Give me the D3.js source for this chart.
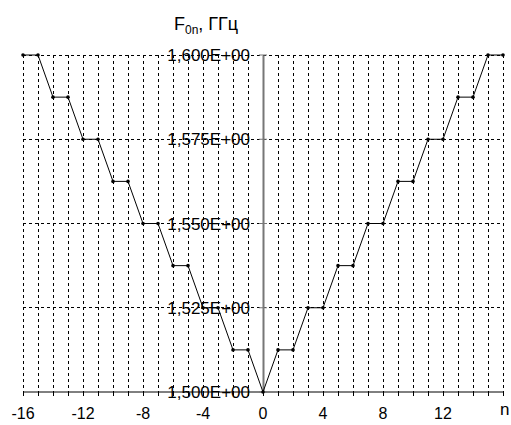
<!DOCTYPE html>
<html>
<head>
<meta charset="utf-8">
<script src="https://cdn.jsdelivr.net/npm/d3@7"></script>
<style>
  body { margin: 0; background: #fff; }
  text { font-family: Arial, "Liberation Sans", sans-serif; fill: #000; }
</style>
</head>
<body>
<script>
// chart size
var svgWidth = 511;
var svgHeight = 425;

// data
var nValues = [-16, -15, -14, -13, -12, -11, -10, -9, -8, -7, -6, -5, -4, -3, -2, -1,
  0, 1, 2, 3, 4, 5, 6, 7, 8, 9, 10, 11, 12, 13, 14, 15, 16];
var fValues = [1.6, 1.6, 1.5875, 1.5875, 1.575, 1.575, 1.5625, 1.5625, 1.55, 1.55,
  1.5375, 1.5375, 1.525, 1.525, 1.5125, 1.5125, 1.5,
  1.5125, 1.5125, 1.525, 1.525, 1.5375, 1.5375, 1.55, 1.55, 1.5625, 1.5625,
  1.575, 1.575, 1.5875, 1.5875, 1.6, 1.6];
var xTickLabels = [-16, -12, -8, -4, 0, 4, 8, 12];
var yTickValues = [1.5, 1.525, 1.55, 1.575, 1.6];
var xGridValues = d3.range(-16, 17);

var data = nValues.map(function(n, i) { return { n: n, f: fValues[i] }; });

var svg = d3.select("body")
  .append("svg")
  .attr("width", svgWidth)
  .attr("height", svgHeight);

// scales
var xScale = d3.scaleLinear().domain([-16, 16]).range([23, 503]);
var yScale = d3.scaleLinear().domain([1.5, 1.6]).range([392, 55]);

// vertical dotted grid
svg.append("g")
  .selectAll("line")
  .data(xGridValues.filter(function(d) { return d !== 0; }))
  .enter()
  .append("line")
  .attr("x1", function(d) { return xScale(d); })
  .attr("x2", function(d) { return xScale(d); })
  .attr("y1", yScale(1.6))
  .attr("y2", yScale(1.5))
  .attr("stroke", "#000")
  .attr("stroke-width", 1)
  .attr("stroke-dasharray", "3,3")
  .attr("shape-rendering", "crispEdges");

// horizontal dotted grid
svg.append("g")
  .selectAll("line")
  .data(yTickValues.filter(function(d) { return d !== 1.5; }))
  .enter()
  .append("line")
  .attr("x1", xScale(-16))
  .attr("x2", xScale(16))
  .attr("y1", function(d) { return yScale(d); })
  .attr("y2", function(d) { return yScale(d); })
  .attr("stroke", "#000")
  .attr("stroke-width", 1)
  .attr("stroke-dasharray", "3,3")
  .attr("shape-rendering", "crispEdges");

// x axis with ticks at every n
var xAxis = d3.axisBottom(xScale)
  .tickValues(xGridValues)
  .tickSize(4)
  .tickFormat("");
var xAxisG = svg.append("g")
  .attr("transform", "translate(0," + yScale(1.5) + ")")
  .call(xAxis);
xAxisG.select(".domain").attr("stroke", "#000").attr("d", "M" + xScale(-16) + ",0H" + xScale(16));
xAxisG.selectAll(".tick line").attr("stroke", "#000");

// x tick labels
svg.append("g")
  .selectAll("text")
  .data(xTickLabels)
  .enter()
  .append("text")
  .attr("x", function(d) { return xScale(d); })
  .attr("y", 419)
  .attr("text-anchor", "middle")
  .style("font-size", "16px")
  .text(function(d) { return d < 0 ? "-" + Math.abs(d) : d; });

svg.append("text")
  .attr("x", 500)
  .attr("y", 415)
  .style("font-size", "17px")
  .text("n");

// y axis (grey) through n = 0
var yAxis = d3.axisLeft(yScale)
  .tickValues(yTickValues)
  .tickSize(0)
  .tickFormat("");
var yAxisG = svg.append("g")
  .attr("transform", "translate(" + xScale(0) + ",0)")
  .call(yAxis);
yAxisG.select(".domain").attr("stroke", "#777").attr("stroke-width", 2);

// y tick marks crossing the axis
svg.append("g")
  .selectAll("line")
  .data(yTickValues)
  .enter()
  .append("line")
  .attr("x1", xScale(0) - 4)
  .attr("x2", xScale(0) + 4)
  .attr("y1", function(d) { return yScale(d); })
  .attr("y2", function(d) { return yScale(d); })
  .attr("stroke", "#777")
  .attr("stroke-width", 1);

// y tick labels, written over the grid
svg.append("g")
  .selectAll("text")
  .data(yTickValues)
  .enter()
  .append("text")
  .attr("x", 250)
  .attr("y", function(d) { return yScale(d); })
  .attr("dy", "0.36em")
  .attr("text-anchor", "end")
  .style("font-size", "17px")
  .text(function(d) { return d.toFixed(3).replace(".", ",") + "E+00"; });

// axis title
var title = svg.append("text")
  .attr("x", 174)
  .attr("y", 30)
  .style("font-size", "18px");
title.append("tspan").text("F");
title.append("tspan").attr("dy", 4).style("font-size", "12px").text("0n");
title.append("tspan").attr("dy", -4).text(", ГГц");

// the line and its points
var line = d3.line()
  .x(function(d) { return xScale(d.n); })
  .y(function(d) { return yScale(d.f); });

svg.append("path")
  .datum(data)
  .attr("d", line)
  .attr("fill", "none")
  .attr("stroke", "#000")
  .attr("stroke-width", 1);

svg.append("g")
  .selectAll("circle")
  .data(data)
  .enter()
  .append("circle")
  .attr("cx", function(d) { return xScale(d.n); })
  .attr("cy", function(d) { return yScale(d.f); })
  .attr("r", 1.8)
  .attr("fill", "#000");
</script>
</body>
</html>
